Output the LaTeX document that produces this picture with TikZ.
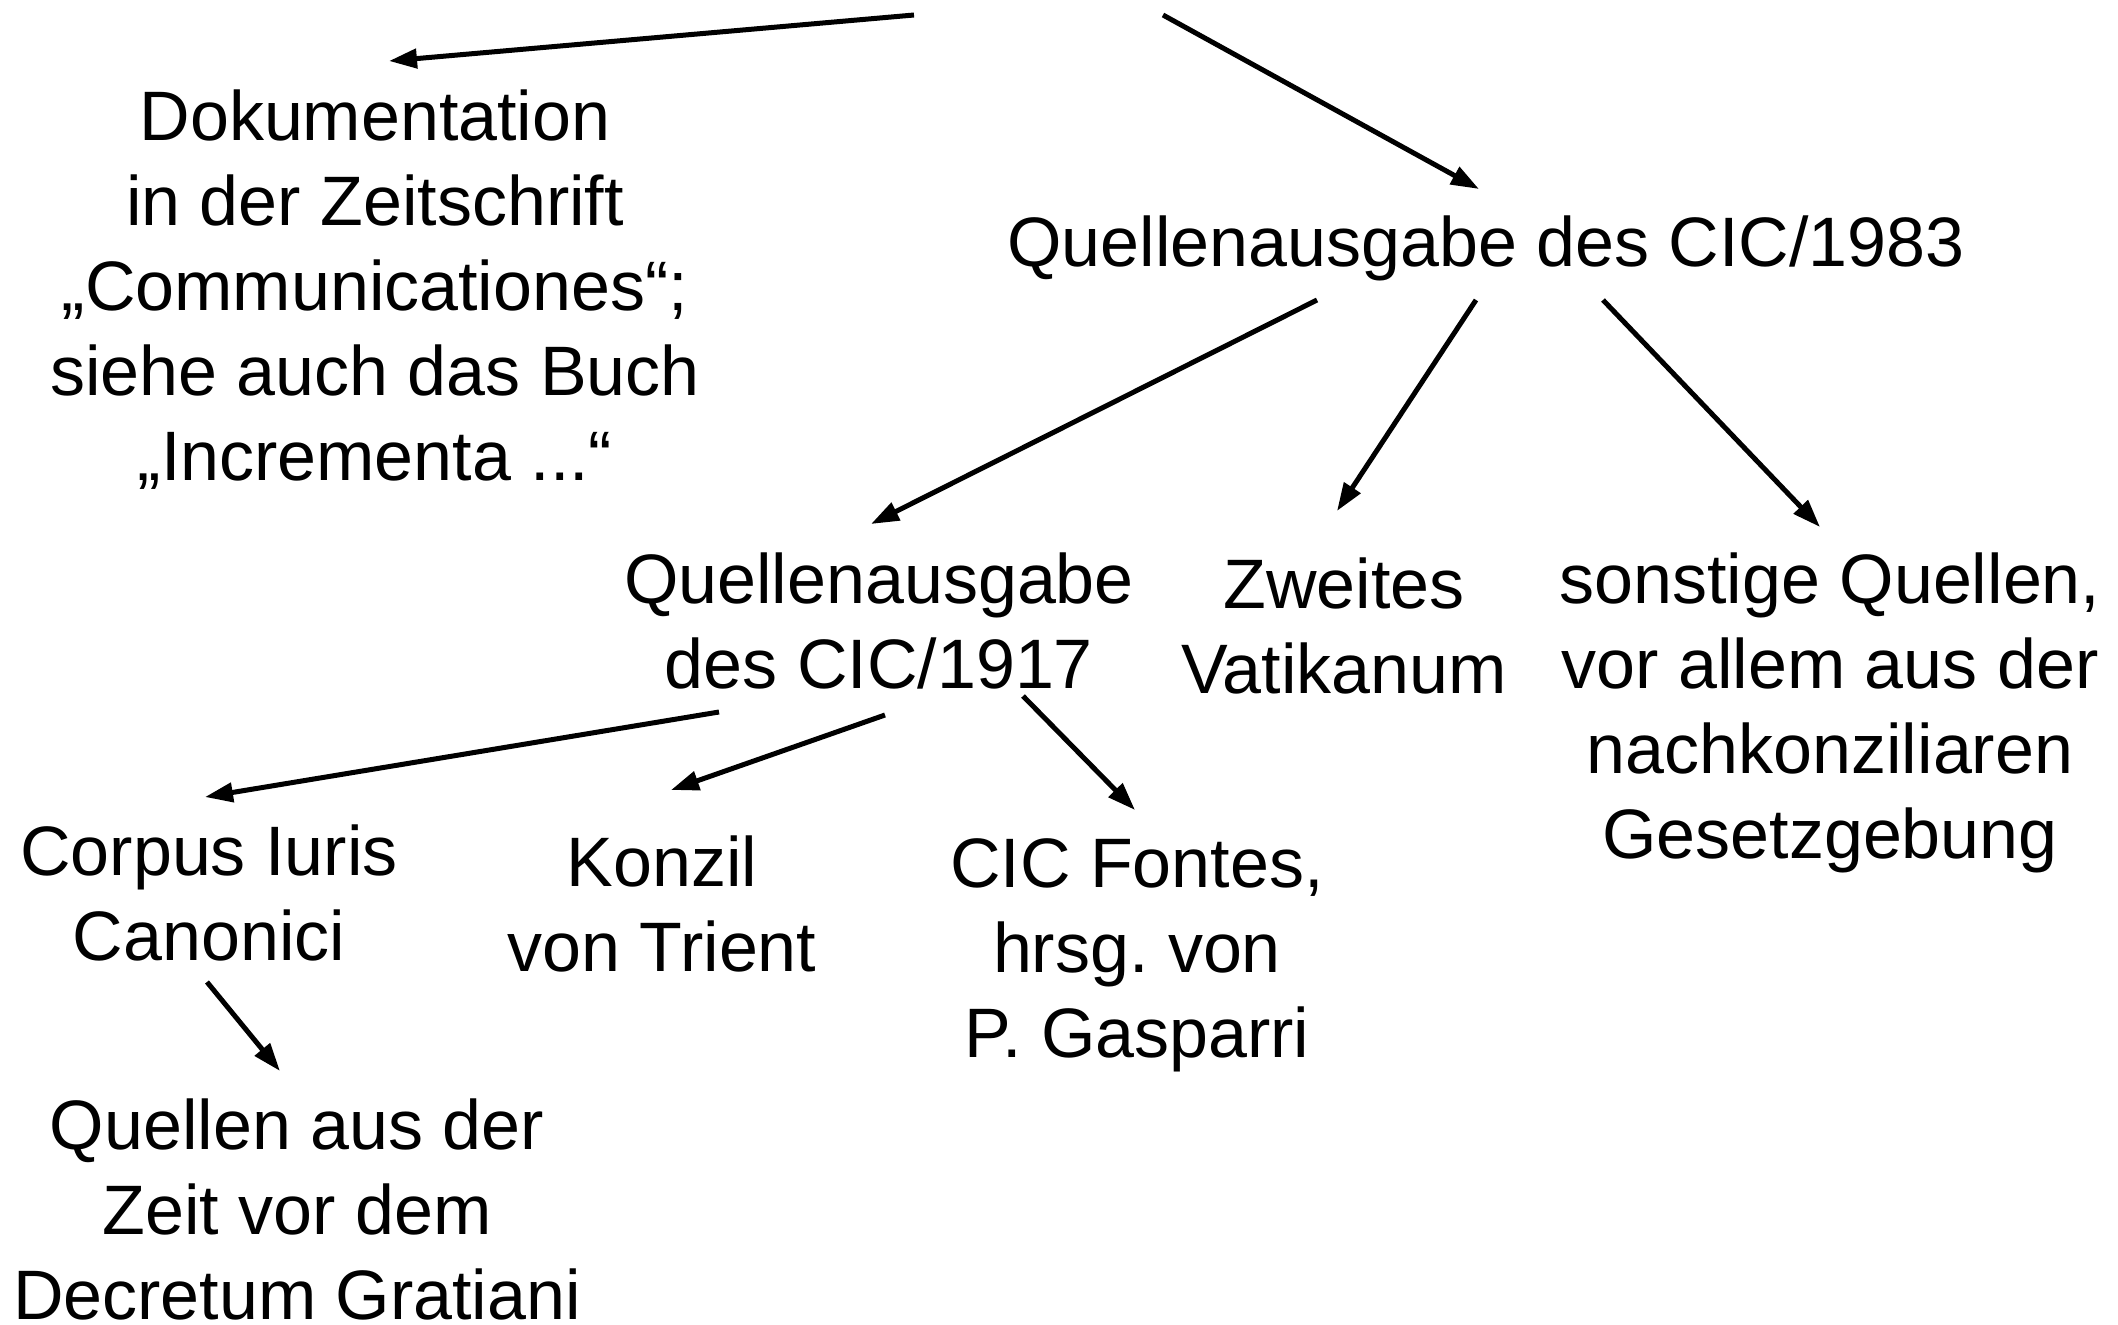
\documentclass[tikz,border=0pt]{standalone}
\usepackage{fontspec}
\setmainfont{Liberation Sans}
\usetikzlibrary{arrows.meta}
\frenchspacing
\begin{document}
\begin{tikzpicture}[x=1pt,y=-1pt,
  lbl/.style={align=center,inner sep=0pt,font=\fontsize{70}{85}\selectfont\frenchspacing},
  arr/.style={line width=5pt,-{Triangle[length=28pt,width=19pt]}}]
\useasboundingbox (0,0) rectangle (2118,1325);
\coordinate (t1) at (914,15);
\coordinate (t2) at (1163,15);
\node[lbl] (doc) at (375,290) {Dokumentation\\in der Zeitschrift\\„Communicationes“;\\siehe auch das Buch\\„Incrementa ...“};
\node[lbl] (q83) at (1486,248) {Quellenausgabe des CIC/1983};
\node[lbl] (q17) at (879,621) {Quellenausgabe\\des CIC/1917};
\node[lbl] (zv) at (1344,626) {Zweites\\Vatikanum};
\node[lbl] (sq) at (1830,713) {sonstige Quellen,\\vor allem aus der\\nachkonziliaren\\Gesetzgebung};
\node[lbl] (cic) at (209,893) {Corpus Iuris\\Canonici};
\node[lbl] (kt) at (662,904) {Konzil\\von Trient};
\node[lbl] (cf) at (1137,955) {CIC Fontes,\\hrsg. von\\P. Gasparri};
\node[lbl] (qz) at (297,1209) {Quellen aus der\\Zeit vor dem\\Decretum Gratiani};
\draw[arr] (t1) -- ([shift={(14,-229)}]doc.center);
\draw[arr] (t2) -- ([shift={(-7,-59)}]q83.center);
\draw[arr] ([shift={(-169,52)}]q83.center) -- ([shift={(-8,-97)}]q17.center);
\draw[arr] ([shift={(-10,52)}]q83.center) -- ([shift={(-7,-115)}]zv.center);
\draw[arr] ([shift={(117,52)}]q83.center) -- ([shift={(-10,-186)}]sq.center);
\draw[arr] ([shift={(-160,91)}]q17.center) -- ([shift={(-4,-96)}]cic.center);
\draw[arr] ([shift={(6,94)}]q17.center) -- ([shift={(9,-114)}]kt.center);
\draw[arr] ([shift={(144,75)}]q17.center) -- ([shift={(-2,-145)}]cf.center);
\draw[arr] ([shift={(-2,89)}]cic.center) -- ([shift={(-17,-138)}]qz.center);
\end{tikzpicture}
\end{document}
